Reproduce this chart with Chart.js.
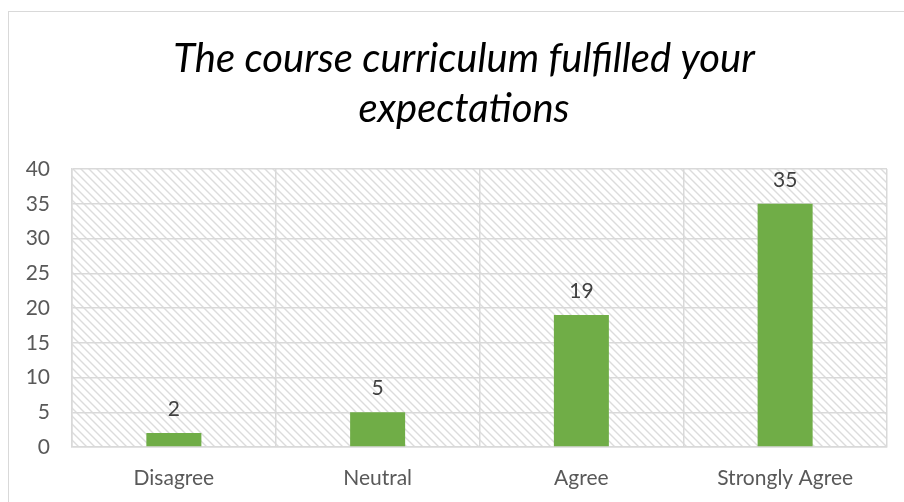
<!DOCTYPE html>
<html>
<head>
<meta charset="utf-8">
<script src="https://cdn.jsdelivr.net/npm/chart.js@4/dist/chart.umd.min.js"></script>
<style>
  body { margin: 0; background: #fff; overflow: hidden; }
  #frame { position: absolute; left: 8px; top: 11px; width: 920px; height: 520px; border: 1.5px solid #d9d9d9; }
  #wrap { position: absolute; left: 0; top: 0; width: 928px; height: 502px; }
</style>
</head>
<body>
<div id="frame"></div>
<div id="wrap"><canvas id="answersChart"></canvas></div>
<script>
// chart data
const categories = ["Disagree", "Neutral", "Agree", "Strongly Agree"];
const responses = [2, 5, 19, 35];
const yTicks = [0, 5, 10, 15, 20, 25, 30, 35, 40];

// light diagonal hatch used behind the bars
function makeHatch() {
  const c = document.createElement("canvas");
  c.width = 8;
  c.height = 8;
  const g = c.getContext("2d");
  g.strokeStyle = "#dcdcdc";
  g.lineWidth = 1.4;
  g.beginPath();
  g.moveTo(-2, -2); g.lineTo(10, 10);
  g.moveTo(-2, 6); g.lineTo(2, 10);
  g.moveTo(6, -2); g.lineTo(10, 2);
  g.stroke();
  return g.createPattern(c, "repeat");
}

const hatchBackground = {
  id: "hatchBackground",
  beforeDraw(chart) {
    const { ctx, chartArea: a } = chart;
    ctx.save();
    ctx.fillStyle = makeHatch();
    ctx.fillRect(a.left, a.top, a.right - a.left, a.bottom - a.top);
    ctx.restore();
  },
};

const valueLabels = {
  id: "valueLabels",
  afterDatasetsDraw(chart) {
    const { ctx } = chart;
    const meta = chart.getDatasetMeta(0);
    ctx.save();
    ctx.font = "21px Lato";
    ctx.fillStyle = "#404040";
    ctx.textAlign = "center";
    ctx.textBaseline = "middle";
    meta.data.forEach((bar, i) => {
      ctx.fillText(responses[i], bar.x, bar.y - 24);
    });
    ctx.restore();
  },
};

const ctx = document.getElementById("answersChart").getContext("2d");
new Chart(ctx, {
  type: "bar",
  data: {
    labels: categories,
    datasets: [
      {
        label: "Responses",
        data: responses,
        backgroundColor: "#70ad47",
        barPercentage: 0.27,
        categoryPercentage: 1,
      },
    ],
  },
  options: {
    responsive: true,
    maintainAspectRatio: false,
    animation: false,
    layout: { padding: 0 },
    plugins: {
      legend: { display: false },
      tooltip: { enabled: false },
      title: {
        display: true,
        text: ["The course curriculum fulfilled your", "expectations"],
        color: "#000",
        font: { family: "Lato", size: 40, style: "italic", weight: "normal", lineHeight: "50px" },
        padding: { top: 34, bottom: 35 },
      },
    },
    scales: {
      x: {
        grid: { offset: true, color: "#d9d9d9", lineWidth: 1.5, drawTicks: false },
        border: { color: "#d9d9d9", width: 1.5 },
        ticks: { color: "#595959", font: { family: "Lato", size: 21 }, padding: 19 },
        afterFit(scale) { scale.height = 55; },
      },
      y: {
        min: 0,
        max: 40,
        afterBuildTicks(scale) { scale.ticks = yTicks.map((v) => ({ value: v })); },
        grid: { color: "#d9d9d9", lineWidth: 1.5, drawTicks: false },
        border: { color: "#d9d9d9", width: 1.5 },
        ticks: { color: "#595959", font: { family: "Lato", size: 21 }, padding: 22 },
        afterFit(scale) { scale.width = 72; },
      },
      // empty right axis, only keeps space at the right of the plot
      spacer: {
        position: "right",
        grid: { display: false },
        border: { display: false },
        ticks: { display: false },
        afterFit(scale) { scale.width = 41; },
      },
    },
  },
  plugins: [hatchBackground, valueLabels],
});
</script>
</body>
</html>
